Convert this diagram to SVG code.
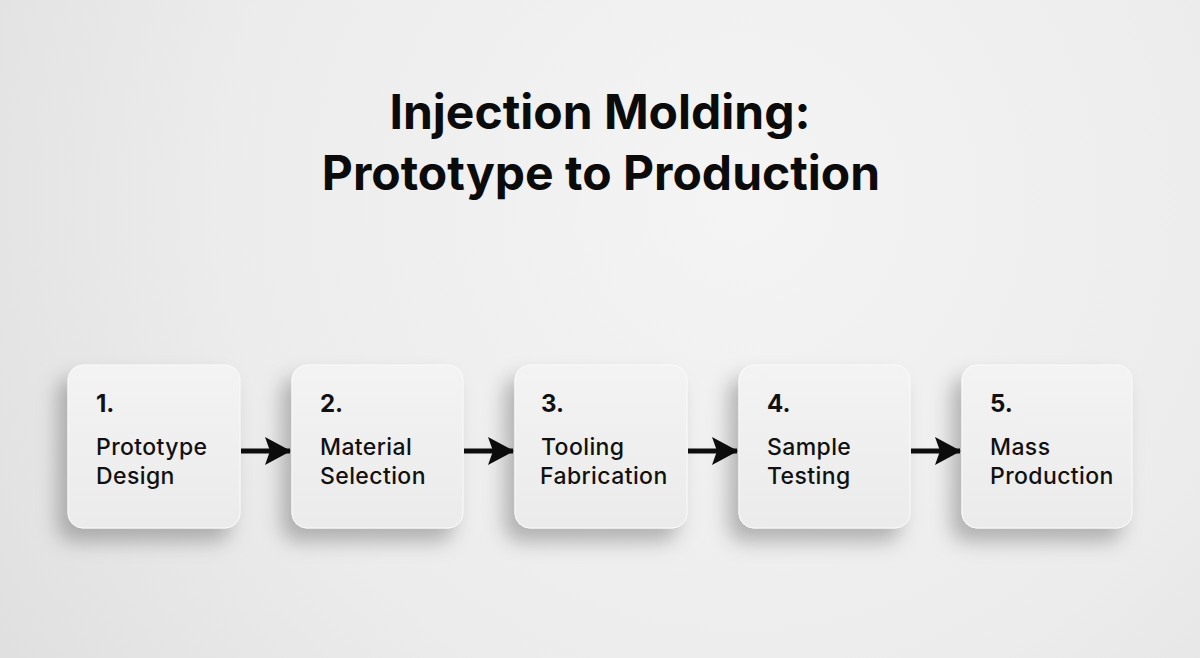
<svg xmlns="http://www.w3.org/2000/svg" width="1200" height="658" viewBox="0 0 1200 658">
  <defs>
    <radialGradient id="bg" cx="740" cy="200" r="860" gradientUnits="userSpaceOnUse">
      <stop offset="0" stop-color="#f4f4f4"/>
      <stop offset="0.6" stop-color="#ececec"/>
      <stop offset="1" stop-color="#e0e0e0"/>
    </radialGradient>
    <linearGradient id="boxfill" x1="0" y1="0" x2="0" y2="1">
      <stop offset="0" stop-color="#f3f3f3"/>
      <stop offset="1" stop-color="#ebebeb"/>
    </linearGradient>
    <filter id="shadow" x="-40%" y="-30%" width="170%" height="170%">
      <feDropShadow dx="-10" dy="13" stdDeviation="10" flood-color="#000" flood-opacity="0.26"/>
    </filter>
    <marker id="arrow" viewBox="0 0 26 28" refX="25" refY="14" markerWidth="26" markerHeight="28" markerUnits="userSpaceOnUse" orient="auto">
      <path d="M0,0 L26,14 L0,28 L5,14 Z" fill="#0d0d0d"/>
    </marker>
    <style>
      .box { fill: url(#boxfill); stroke: #fafafa; stroke-width: 1; filter: url(#shadow); }
      .num { font-family: Inter, "Liberation Sans", sans-serif; font-weight: 700; font-size: 24px; fill: #111; }
      .lbl { font-family: Inter, "Liberation Sans", sans-serif; font-weight: 500; font-size: 23px; letter-spacing: 0.4px; fill: #111; }
      .title { font-family: Inter, "Liberation Sans", sans-serif; font-weight: 700; font-size: 48px; fill: #0b0b0b; text-anchor: middle; }
      .conn { stroke: #0d0d0d; stroke-width: 5; fill: none; marker-end: url(#arrow); }
    </style>
  </defs>

  <rect x="0" y="0" width="1200" height="658" fill="url(#bg)"/>

  <g id="title">
    <text class="title" x="600" y="129">Injection Molding:</text>
    <text class="title" x="601" y="190">Prototype to Production</text>
  </g>

  <g id="connectors">
    <line class="conn" x1="241" y1="451" x2="290" y2="451"/>
    <line class="conn" x1="464" y1="451" x2="513" y2="451"/>
    <line class="conn" x1="688" y1="451" x2="737" y2="451"/>
    <line class="conn" x1="911" y1="451" x2="960" y2="451"/>
  </g>

  <g id="node1">
    <rect class="box" x="68" y="365" width="172" height="163" rx="15"/>
    <text class="num" x="96" y="412">1.</text>
    <text class="lbl" x="96" y="455">Prototype</text>
    <text class="lbl" x="96" y="484">Design</text>
  </g>
  <g id="node2">
    <rect class="box" x="292" y="365" width="171" height="163" rx="15"/>
    <text class="num" x="320" y="412">2.</text>
    <text class="lbl" x="320" y="455">Material</text>
    <text class="lbl" x="320" y="484">Selection</text>
  </g>
  <g id="node3">
    <rect class="box" x="515" y="365" width="172" height="163" rx="15"/>
    <text class="num" x="541" y="412">3.</text>
    <text class="lbl" x="541" y="455">Tooling</text>
    <text class="lbl" x="540" y="484">Fabrication</text>
  </g>
  <g id="node4">
    <rect class="box" x="739" y="365" width="171" height="163" rx="15"/>
    <text class="num" x="767" y="412">4.</text>
    <text class="lbl" x="767" y="455">Sample</text>
    <text class="lbl" x="767" y="484">Testing</text>
  </g>
  <g id="node5">
    <rect class="box" x="962" y="365" width="170" height="163" rx="15"/>
    <text class="num" x="990" y="412">5.</text>
    <text class="lbl" x="990" y="455">Mass</text>
    <text class="lbl" x="990" y="484">Production</text>
  </g>
</svg>
